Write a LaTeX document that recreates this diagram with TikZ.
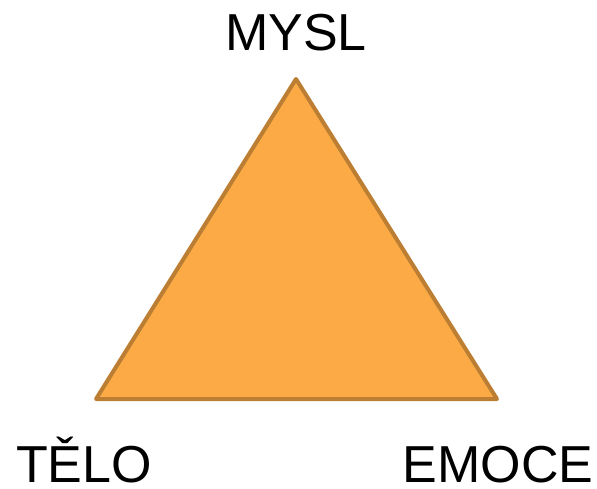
\documentclass[tikz,border=0pt]{standalone}
\usepackage{fontspec}
\setmainfont{Liberation Sans}
\definecolor{triFill}{HTML}{FBAA45}
\definecolor{triLine}{HTML}{BB7E33}
\tikzset{
  label text/.style={font=\fontsize{52}{58}\selectfont, anchor=base, inner sep=0pt}
}
\begin{document}
\begin{tikzpicture}[x=1pt,y=-1pt]
\useasboundingbox (0,0) rectangle (597,488);
\coordinate (top) at (296,79);
\coordinate (left) at (96,399);
\coordinate (right) at (497,399);
\draw[triLine, fill=triFill, line width=4pt, line join=round] (top) -- (left) -- (right) -- cycle;
\node[label text] (mysl) at (296,50) {MYSL};
\node[label text] (telo) at (84,482) {TĚLO};
\node[label text] (emoce) at (498,482) {EMOCE};
\end{tikzpicture}
\end{document}
